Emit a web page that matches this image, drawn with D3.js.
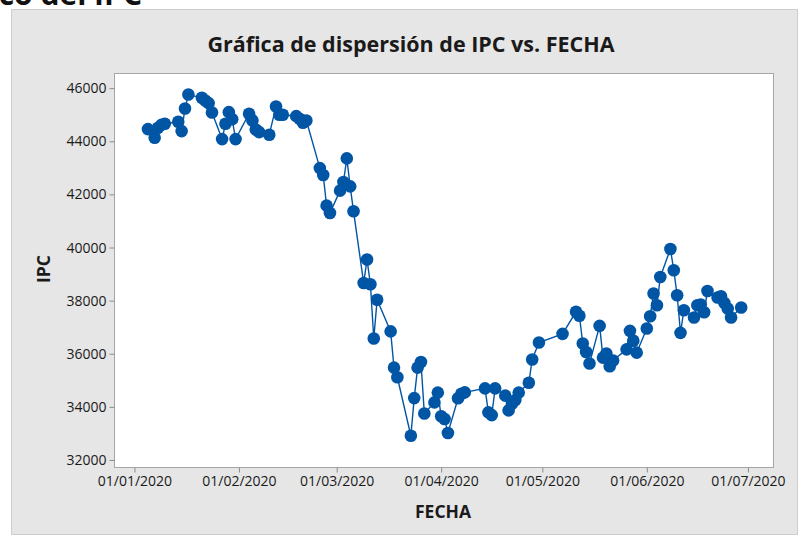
<!DOCTYPE html>
<html>
<head>
<meta charset="utf-8">
<script src="https://cdn.jsdelivr.net/npm/d3@7/dist/d3.min.js"></script>
<style>
  body { margin: 0; background: #fff; }
  svg { display: block; font-family: "Open Sans", "Noto Sans", sans-serif; }
</style>
</head>
<body>
<div id="chart"></div>
<script>
// values, one point per trading day
let fechas = [
  "2020-01-05", "2020-01-07", "2020-01-08", "2020-01-09", "2020-01-10",
  "2020-01-14", "2020-01-15", "2020-01-16", "2020-01-17", "2020-01-21",
  "2020-01-22", "2020-01-23", "2020-01-24", "2020-01-27", "2020-01-28",
  "2020-01-29", "2020-01-30", "2020-01-31", "2020-02-04", "2020-02-05",
  "2020-02-06", "2020-02-07", "2020-02-10", "2020-02-12", "2020-02-13",
  "2020-02-14", "2020-02-18", "2020-02-19", "2020-02-20", "2020-02-21",
  "2020-02-25", "2020-02-26", "2020-02-27", "2020-02-28", "2020-03-02",
  "2020-03-03", "2020-03-04", "2020-03-05", "2020-03-06", "2020-03-09",
  "2020-03-10", "2020-03-11", "2020-03-12", "2020-03-13", "2020-03-17",
  "2020-03-18", "2020-03-19", "2020-03-23", "2020-03-24", "2020-03-25",
  "2020-03-26", "2020-03-27", "2020-03-30", "2020-03-31", "2020-04-01",
  "2020-04-02", "2020-04-03", "2020-04-06", "2020-04-07", "2020-04-08",
  "2020-04-14", "2020-04-15", "2020-04-16", "2020-04-17", "2020-04-20",
  "2020-04-21", "2020-04-22", "2020-04-23", "2020-04-24", "2020-04-27",
  "2020-04-28", "2020-04-30", "2020-05-07", "2020-05-11", "2020-05-12",
  "2020-05-13", "2020-05-14", "2020-05-15", "2020-05-18", "2020-05-19",
  "2020-05-20", "2020-05-21", "2020-05-22", "2020-05-26", "2020-05-27",
  "2020-05-28", "2020-05-29", "2020-06-01", "2020-06-02", "2020-06-03",
  "2020-06-04", "2020-06-05", "2020-06-08", "2020-06-09", "2020-06-10",
  "2020-06-11", "2020-06-12", "2020-06-15", "2020-06-16", "2020-06-17",
  "2020-06-18", "2020-06-19", "2020-06-22", "2020-06-23", "2020-06-24",
  "2020-06-25", "2020-06-26", "2020-06-29"
]

let ipc = [
  44460, 44135, 44510, 44620, 44660,
  44736, 44383, 45236, 45763, 45639,
  45537, 45436, 45086, 44082, 44661,
  45097, 44834, 44082, 45037, 44785,
  44447, 44345, 44247, 45312, 45000,
  45000, 44947, 44849, 44699, 44785,
  42991, 42728, 41577, 41299, 42141,
  42465, 43356, 42303, 41363, 38666,
  39546, 38617, 36575, 38034, 36842,
  35477, 35112, 32912, 34330, 35477,
  35691, 33747, 34168, 34536, 33645,
  33540, 33013, 34322, 34491, 34544,
  34694, 33792, 33690, 34694, 34424,
  33867, 34111, 34254, 34536, 34905,
  35785, 36424, 36748, 37579, 37432,
  36387, 36067, 35635, 37049, 35853,
  36011, 35526, 35748, 36165, 36861,
  36492, 36041, 36951, 37414, 38267,
  37827, 38892, 39945, 39144, 38203,
  36786, 37639, 37365, 37827, 37854,
  37564, 38365, 38117, 38166, 37914,
  37703, 37365, 37741
]

let xTicks = ["2020-01-01", "2020-02-01", "2020-03-01", "2020-04-01",
              "2020-05-01", "2020-06-01", "2020-07-01"]
let yTicks = [32000, 34000, 36000, 38000, 40000, 42000, 44000, 46000]

let titulo = "Gráfica de dispersión de IPC vs. FECHA"
let encabezado = "Gráfico del IPC"

let parseDate = d3.timeParse("%Y-%m-%d")
let formatDate = d3.timeFormat("%d/%m/%Y")

let data = fechas.map(function(f, i){ return {x: parseDate(f), y: ipc[i]} })

let width  = 801
let height = 535
let plot   = {left: 114.5, top: 73.5, right: 773.5, bottom: 467.5}
let azul   = "#0055a5"

let svg = d3.select("#chart")
  .append("svg")
  .attr("width", width)
  .attr("height", height)

// heading of the document, cut off by the top of the picture
svg.append("text")
  .attr("x", 142)
  .attr("y", 5)
  .attr("text-anchor", "end")
  .attr("font-size", 30)
  .attr("font-weight", "bold")
  .attr("fill", "#111")
  .text(encabezado)

// grey panel behind the graph
svg.append("rect")
  .attr("x", 11.5)
  .attr("y", 9.5)
  .attr("width", 786)
  .attr("height", 525)
  .attr("fill", "#e6e6e6")
  .attr("stroke", "#cdcdcd")

svg.append("rect")
  .attr("x", plot.left)
  .attr("y", plot.top)
  .attr("width", plot.right - plot.left)
  .attr("height", plot.bottom - plot.top)
  .attr("fill", "#fff")
  .attr("stroke", "#a6a6a6")

// axis ends padded the way Minitab does it
let x = d3.scaleTime()
  .domain([d3.timeHour.offset(parseDate("2020-01-01"), -142),
           d3.timeHour.offset(parseDate("2020-01-01"), 4550)])
  .range([plot.left, plot.right])

let y = d3.scaleLinear()
  .domain([31716, 46553])
  .range([plot.bottom, plot.top])

let xAxis = d3.axisBottom(x)
  .tickValues(xTicks.map(parseDate))
  .tickFormat(formatDate)
  .tickSizeInner(5)
  .tickSizeOuter(0)
  .tickPadding(4)

let yAxis = d3.axisLeft(y)
  .tickValues(yTicks)
  .tickFormat(d3.format("d"))
  .tickSizeInner(5)
  .tickSizeOuter(0)
  .tickPadding(3)

let gx = svg.append("g")
  .attr("transform", "translate(0," + plot.bottom + ")")
  .call(xAxis)

let gy = svg.append("g")
  .attr("transform", "translate(" + plot.left + ",0)")
  .call(yAxis)

;[gx, gy].forEach(function(g){
  g.select(".domain").remove()
  g.selectAll(".tick line").attr("stroke", "#8c8c8c")
  g.selectAll(".tick text")
    .attr("fill", "#1a1a1a")
    .attr("font-size", 14)
    .attr("font-family", "\"Open Sans\", sans-serif")
})

let line = d3.line()
  .x(function(d){ return x(d.x) })
  .y(function(d){ return y(d.y) })

svg.append("path")
  .datum(data)
  .attr("d", line)
  .attr("fill", "none")
  .attr("stroke", azul)
  .attr("stroke-width", 1.4)

svg.append("g")
  .selectAll("circle")
  .data(data)
  .join("circle")
  .attr("cx", function(d){ return x(d.x) })
  .attr("cy", function(d){ return y(d.y) })
  .attr("r", 6.3)
  .attr("fill", azul)

svg.append("text")
  .attr("x", 411)
  .attr("y", 52)
  .attr("text-anchor", "middle")
  .attr("font-size", 21.5)
  .attr("font-weight", "bold")
  .attr("fill", "#1a1a1a")
  .text(titulo)

svg.append("text")
  .attr("x", 443)
  .attr("y", 518)
  .attr("text-anchor", "middle")
  .attr("font-size", 17.5)
  .attr("font-weight", "bold")
  .attr("fill", "#1a1a1a")
  .text("FECHA")

svg.append("text")
  .attr("transform", "translate(50,269) rotate(-90)")
  .attr("text-anchor", "middle")
  .attr("font-size", 17.5)
  .attr("font-weight", "bold")
  .attr("fill", "#1a1a1a")
  .text("IPC")
</script>
</body>
</html>
